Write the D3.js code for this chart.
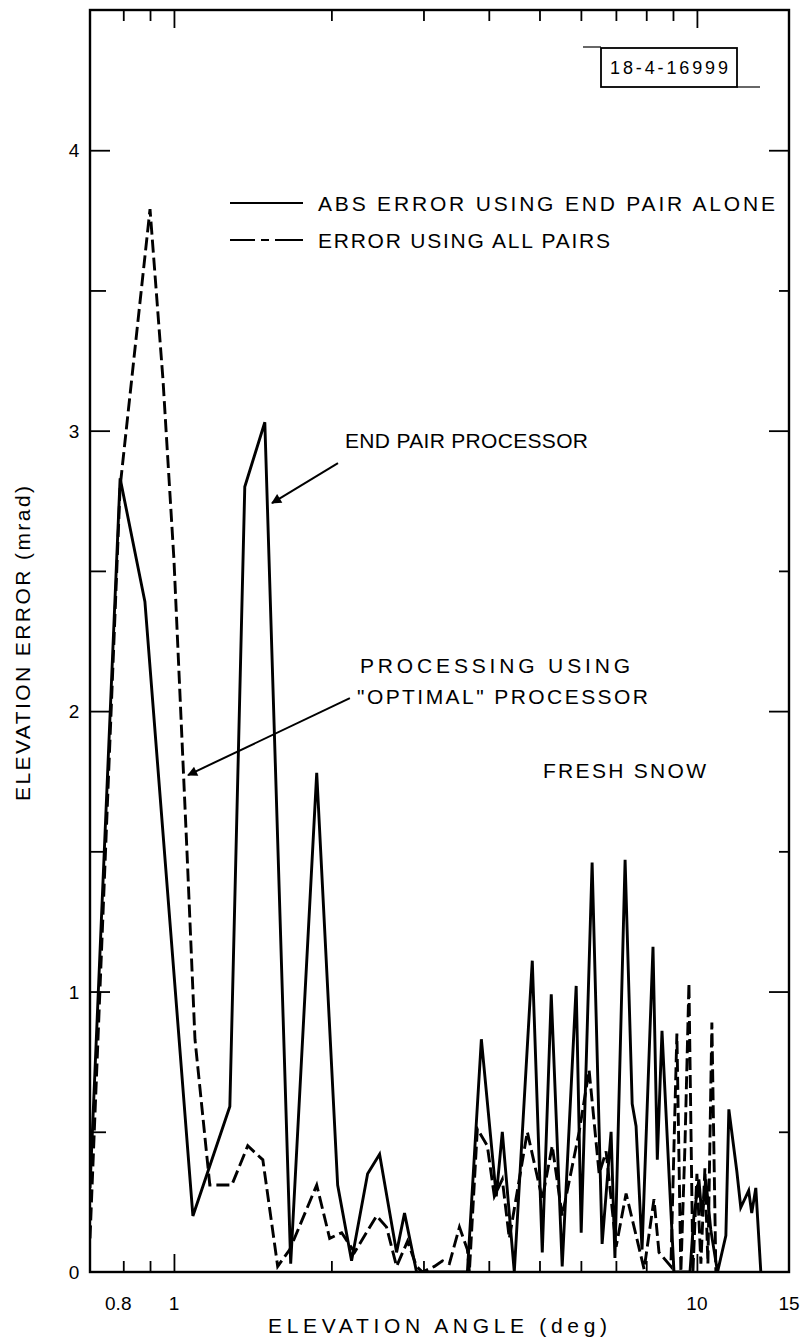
<!DOCTYPE html>
<html>
<head>
<meta charset="utf-8">
<script src="https://cdn.jsdelivr.net/npm/d3@7"></script>
<style>
  html, body { margin: 0; padding: 0; background: #fff; }
  svg { display: block; }
  text { font-family: "Liberation Sans", Arial, sans-serif; fill: #000; }
</style>
</head>
<body>
<svg id="chart" width="801" height="1339"></svg>
<script>
// ---- data ----
const solidX = [0.691, 0.789, 0.880, 1.087, 1.279, 1.366, 1.492, 1.672, 1.875, 2.056, 2.186, 2.346, 2.473, 2.665, 2.760, 2.910, 3.640, 3.871, 4.134, 4.245, 4.475, 4.844, 5.062, 5.266, 5.526, 5.877, 6.008, 6.304, 6.588, 6.853, 6.970, 7.289, 7.520, 7.650, 7.854, 8.242, 8.400, 8.575, 8.844, 9.040, 9.700, 9.869, 10.088, 10.220, 10.400, 10.630, 10.950, 11.360, 11.510, 11.920, 12.130, 12.560, 12.730, 12.960, 13.250];
const solidY = [0.30, 2.83, 2.39, 0.20, 0.59, 2.80, 3.03, 0.03, 1.78, 0.31, 0.04, 0.35, 0.42, 0.07, 0.21, 0.00, 0.00, 0.83, 0.27, 0.50, 0.00, 1.11, 0.07, 0.99, 0.02, 1.02, 0.14, 1.46, 0.10, 0.50, 0.05, 1.47, 0.60, 0.52, 0.08, 1.16, 0.40, 0.86, 0.35, 0.00, 0.00, 0.20, 0.33, 0.20, 0.33, 0.15, 0.00, 0.13, 0.58, 0.36, 0.23, 0.29, 0.21, 0.30, 0.00];

const dashedX = [0.691, 0.789, 0.900, 0.953, 1.000, 1.059, 1.097, 1.171, 1.290, 1.384, 1.479, 1.579, 1.665, 1.875, 1.985, 2.093, 2.215, 2.440, 2.550, 2.665, 2.797, 2.910, 2.987, 3.148, 3.262, 3.363, 3.515, 3.640, 3.672, 3.803, 3.974, 4.099, 4.245, 4.378, 4.739, 5.062, 5.289, 5.526, 5.955, 6.221, 6.502, 6.705, 7.007, 7.321, 7.926, 8.278, 8.462, 8.918, 9.156, 9.318, 9.487, 9.655, 9.826, 10.000, 10.177, 10.358, 10.496, 10.681, 10.870, 11.015];
const dashedY = [0.12, 2.80, 3.79, 3.18, 2.54, 1.50, 0.83, 0.31, 0.31, 0.45, 0.40, 0.02, 0.08, 0.31, 0.12, 0.14, 0.07, 0.20, 0.16, 0.02, 0.11, 0.02, 0.00, 0.02, 0.04, 0.03, 0.16, 0.08, 0.00, 0.51, 0.45, 0.27, 0.33, 0.12, 0.50, 0.26, 0.45, 0.20, 0.50, 0.72, 0.35, 0.43, 0.09, 0.28, 0.01, 0.26, 0.07, 0.02, 0.85, 0.00, 0.45, 1.03, 0.00, 0.35, 0.03, 0.37, 0.03, 0.89, 0.00, 0.00];

const xDomain = [0.691, 15];
const yDomain = [0, 4.5];
const xMajorTicks = [1, 10];
const xMinorTicks = [0.8, 0.9, 2, 3, 4, 5, 6, 7, 8, 9];
const xTickLabelValues = [0.8, 1, 10, 15];
const xTickLabels = ["0.8", "1", "10", "15"];
const yMajorTicks = [1, 2, 3, 4];
const yMinorTicks = [0.5, 1.5, 2.5, 3.5];
const yTickLabelValues = [0, 1, 2, 3, 4];
const yTickLabels = ["0", "1", "2", "3", "4"];

const legendLabels = ["ABS ERROR USING END PAIR ALONE", "ERROR USING ALL PAIRS"];
const xTitle = "ELEVATION ANGLE  (deg)";
const yTitle = "ELEVATION ERROR (mrad)";
const figureId = "18-4-16999";
const annotations = ["END PAIR PROCESSOR", "PROCESSING USING", "\"OPTIMAL\" PROCESSOR", "FRESH SNOW"];

// ---- layout ----
const svg = d3.select("#chart");
const pL = 90, pR = 789, pT = 10, pB = 1272;
const x = d3.scaleLog().domain(xDomain).range([pL, pR]);
const y = d3.scaleLinear().domain(yDomain).range([pB, pT]);

svg.append("rect").attr("width", 801).attr("height", 1339).attr("fill", "#fff");

const defs = svg.append("defs");
defs.append("clipPath").attr("id", "plotclip")
  .append("rect").attr("x", pL).attr("y", pT).attr("width", pR - pL).attr("height", pB - pT);

// ---- data lines ----
const solidData = solidX.map((v, i) => [v, solidY[i]]);
const dashedData = dashedX.map((v, i) => [v, dashedY[i]]);
const line = d3.line().x(d => x(d[0])).y(d => y(d[1]));

const plot = svg.append("g").attr("clip-path", "url(#plotclip)");
plot.append("path").datum(dashedData).attr("d", line)
  .attr("fill", "none").attr("stroke", "#000").attr("stroke-width", 2.9)
  .attr("stroke-dasharray", "13,5").attr("stroke-linejoin", "miter");
plot.append("path").datum(solidData).attr("d", line)
  .attr("fill", "none").attr("stroke", "#000").attr("stroke-width", 2.9)
  .attr("stroke-linejoin", "miter");

// ---- axes (ticks drawn inward) ----
const axisStyle = g => { g.select(".domain").remove(); g.selectAll("line").attr("stroke", "#000").attr("stroke-width", 1.8); g.selectAll("text").remove(); };
svg.append("g").attr("transform", `translate(0,${pB})`)
  .call(d3.axisTop(x).tickValues(xMajorTicks).tickSize(18)).call(axisStyle);
svg.append("g").attr("transform", `translate(0,${pB})`)
  .call(d3.axisTop(x).tickValues(xMinorTicks).tickSize(11)).call(axisStyle);
svg.append("g").attr("transform", `translate(0,${pT})`)
  .call(d3.axisBottom(x).tickValues(xMajorTicks).tickSize(18)).call(axisStyle);
svg.append("g").attr("transform", `translate(0,${pT})`)
  .call(d3.axisBottom(x).tickValues(xMinorTicks).tickSize(11)).call(axisStyle);
svg.append("g").attr("transform", `translate(${pL},0)`)
  .call(d3.axisRight(y).tickValues(yMajorTicks).tickSize(20)).call(axisStyle);
svg.append("g").attr("transform", `translate(${pL},0)`)
  .call(d3.axisRight(y).tickValues(yMinorTicks).tickSize(16)).call(axisStyle);
svg.append("g").attr("transform", `translate(${pR},0)`)
  .call(d3.axisLeft(y).tickValues(yMajorTicks).tickSize(20)).call(axisStyle);
svg.append("g").attr("transform", `translate(${pR},0)`)
  .call(d3.axisLeft(y).tickValues(yMinorTicks).tickSize(10)).call(axisStyle);

// frame
svg.append("rect").attr("x", pL).attr("y", pT).attr("width", pR - pL).attr("height", pB - pT)
  .attr("fill", "none").attr("stroke", "#000").attr("stroke-width", 2.4);

// tick labels
svg.append("g").selectAll("text").data(xTickLabelValues).join("text")
  .attr("x", d => x(d) + (d === 0.8 ? -5 : 0)).attr("y", pB + 38)
  .attr("text-anchor", "middle").attr("font-size", 19)
  .text((d, i) => xTickLabels[i]);
svg.append("g").selectAll("text").data(yTickLabelValues).join("text")
  .attr("x", pL - 16).attr("y", d => y(d) + 7)
  .attr("text-anchor", "middle").attr("font-size", 19)
  .text((d, i) => yTickLabels[i]);

// axis titles
svg.append("text").attr("x", 268).attr("y", 1333).attr("font-size", 21)
  .attr("textLength", 339).attr("lengthAdjust", "spacing").text(xTitle);
svg.append("text").attr("transform", "translate(30,801) rotate(-90)")
  .attr("font-size", 21).attr("textLength", 315).attr("lengthAdjust", "spacing").text(yTitle);

// legend
const lg = svg.append("g");
lg.append("line").attr("x1", 230).attr("x2", 303).attr("y1", 203).attr("y2", 203)
  .attr("stroke", "#000").attr("stroke-width", 2.2);
lg.append("line").attr("x1", 230).attr("x2", 303).attr("y1", 240).attr("y2", 240)
  .attr("stroke", "#000").attr("stroke-width", 2.2).attr("stroke-dasharray", "25,6,8,6,28");
lg.append("text").attr("x", 318).attr("y", 211).attr("font-size", 21)
  .attr("textLength", 457).attr("lengthAdjust", "spacing").text(legendLabels[0]);
lg.append("text").attr("x", 318).attr("y", 248).attr("font-size", 21)
  .attr("textLength", 292).attr("lengthAdjust", "spacing").text(legendLabels[1]);

// figure id box
svg.append("rect").attr("x", 601).attr("y", 48).attr("width", 136).attr("height", 39)
  .attr("fill", "none").attr("stroke", "#000").attr("stroke-width", 1.8);
svg.append("line").attr("x1", 583).attr("x2", 601).attr("y1", 47).attr("y2", 47).attr("stroke", "#000").attr("stroke-width", 1.2);
svg.append("line").attr("x1", 737).attr("x2", 760).attr("y1", 87).attr("y2", 87).attr("stroke", "#000").attr("stroke-width", 1.2);
svg.append("text").attr("x", 610).attr("y", 74).attr("font-size", 18)
  .attr("textLength", 118).attr("lengthAdjust", "spacing").text(figureId);

// annotations
defs.append("marker").attr("id", "arrow").attr("viewBox", "0 0 10 10")
  .attr("refX", 9).attr("refY", 5).attr("markerWidth", 14).attr("markerHeight", 10)
  .attr("markerUnits", "userSpaceOnUse").attr("orient", "auto")
  .append("path").attr("d", "M0,0 L10,5 L0,10 Z").attr("fill", "#000");

svg.append("text").attr("x", 345).attr("y", 448).attr("font-size", 21)
  .attr("textLength", 243).attr("lengthAdjust", "spacing").text(annotations[0]);
svg.append("text").attr("x", 360).attr("y", 673).attr("font-size", 21)
  .attr("textLength", 270).attr("lengthAdjust", "spacing").text(annotations[1]);
svg.append("text").attr("x", 357).attr("y", 704).attr("font-size", 21)
  .attr("textLength", 291).attr("lengthAdjust", "spacing").text(annotations[2]);
svg.append("text").attr("x", 543).attr("y", 778).attr("font-size", 21)
  .attr("textLength", 163).attr("lengthAdjust", "spacing").text(annotations[3]);

const arrows = [
  { from: [2.059, 2.884], to: [1.540, 2.742] },
  { from: [2.170, 2.046], to: [1.064, 1.772] }
];
svg.append("g").selectAll("line").data(arrows).join("line")
  .attr("x1", d => x(d.from[0])).attr("y1", d => y(d.from[1]))
  .attr("x2", d => x(d.to[0])).attr("y2", d => y(d.to[1]))
  .attr("stroke", "#000").attr("stroke-width", 2).attr("marker-end", "url(#arrow)");
</script>
</body>
</html>
